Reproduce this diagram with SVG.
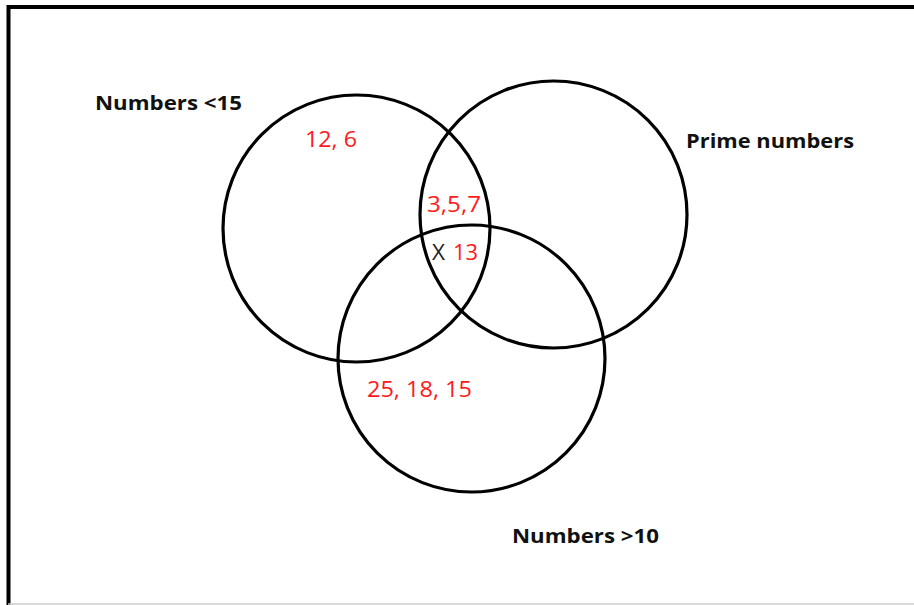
<svg xmlns="http://www.w3.org/2000/svg" width="914" height="605" viewBox="0 0 914 605">
<style>
.c{fill:none;stroke:#000;stroke-width:3.2}
.lbl{font-family:"Open Sans","Liberation Sans",sans-serif;font-weight:bold;font-size:20px;fill:#111}
.num{font-family:"Open Sans","Liberation Sans",sans-serif;font-size:22px;fill:#ff1a1a}
.x{font-family:"Open Sans","Liberation Sans",sans-serif;font-size:22px;fill:#222}
</style>
<rect x="0" y="0" width="914" height="605" fill="#fff"/>
<g id="frame">
<path d="M8.5 605 V7 H914" fill="none" stroke="#000" stroke-width="4"/>
<line x1="8" y1="604" x2="914" y2="604" stroke="#ccc" stroke-width="1.5"/>
</g>
<g id="connectors"></g>
<g id="set-lt15">
<circle class="c" cx="356.5" cy="228.5" r="133.5"/>
<text class="lbl" x="95" y="110" textLength="147" lengthAdjust="spacingAndGlyphs">Numbers &lt;15</text>
</g>
<g id="set-prime">
<circle class="c" cx="553.5" cy="214.5" r="133.5"/>
<text class="lbl" x="686" y="148" textLength="168" lengthAdjust="spacingAndGlyphs">Prime numbers</text>
</g>
<g id="set-gt10">
<circle class="c" cx="471.5" cy="358.5" r="133.5"/>
<text class="lbl" x="512" y="543" textLength="147" lengthAdjust="spacingAndGlyphs">Numbers &gt;10</text>
</g>
<g id="values">
<text class="num" x="305" y="147" textLength="52" lengthAdjust="spacingAndGlyphs">12, 6</text>
<text class="num" x="427" y="212" textLength="54" lengthAdjust="spacingAndGlyphs">3,5,7</text>
<text class="x" x="432" y="260" textLength="13" lengthAdjust="spacingAndGlyphs">X</text>
<text class="num" x="453" y="260" textLength="25" lengthAdjust="spacingAndGlyphs">13</text>
<text class="num" x="367" y="397" textLength="105" lengthAdjust="spacingAndGlyphs">25, 18, 15</text>
</g>
</svg>
